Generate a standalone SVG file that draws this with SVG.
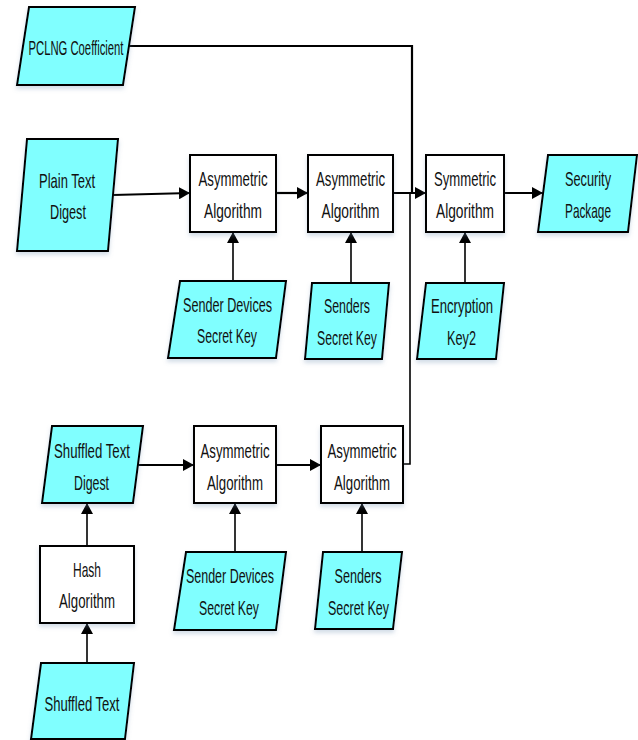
<svg xmlns="http://www.w3.org/2000/svg" width="638" height="740" viewBox="0 0 638 740">
<style>
.io{fill:#80ffff;stroke:#000;stroke-width:2;filter:url(#sh)}
.bx{fill:#fff;stroke:#000;stroke-width:2;filter:url(#sh)}
text{font-family:"Liberation Sans",Arial,sans-serif;font-size:21px;fill:#111;text-anchor:middle}
.c{fill:none;stroke:#000;stroke-width:2.2}
.v{fill:none;stroke:#000;stroke-width:1.6}
.a{marker-end:url(#ar)}
</style>
<defs>
<filter id="sh" x="-10%" y="-10%" width="120%" height="130%">
<feDropShadow dx="0" dy="3" stdDeviation="2" flood-color="#7090b0" flood-opacity="0.3"/>
</filter>
<marker id="ar" markerUnits="userSpaceOnUse" markerWidth="12" markerHeight="12" refX="11" refY="6" orient="auto">
<path d="M0,0 L11,6 L0,12 z" fill="#000"/>
</marker>
</defs>
<g id="connectors">
<path class="c" d="M128 46 H412 V193"/>
<path class="v" d="M403 464 H410 V193"/>
<path class="c a" d="M113 195 L190 193"/>
<path class="c a" d="M276 193 H308"/>
<path class="c a" d="M393 193 H426"/>
<path class="c a" d="M504 193 H543"/>
<path class="v a" d="M233 281 V232"/>
<path class="v a" d="M351 283 V232"/>
<path class="v a" d="M465 283 V232"/>
<path class="c a" d="M138 465 H194"/>
<path class="c a" d="M276 465 H321"/>
<path class="v a" d="M87 546 V503"/>
<path class="v a" d="M235 552 V503"/>
<path class="v a" d="M362 552 V503"/>
<path class="v a" d="M87 663 V623"/>
</g>
<g id="pclng">
<polygon class="io" points="29,7 135,7 123,85 17,85"/>
<text x="76" y="55" textLength="95" lengthAdjust="spacingAndGlyphs">PCLNG Coefficient</text>
</g>
<g id="plain">
<polygon class="io" points="27,139 118,139 108,251 17,251"/>
<text x="67" y="188" textLength="56" lengthAdjust="spacingAndGlyphs">Plain Text</text>
<text x="68" y="219" textLength="36" lengthAdjust="spacingAndGlyphs">Digest</text>
</g>
<g id="asym1">
<rect class="bx" x="190" y="155" width="86" height="77"/>
<text x="233" y="186" textLength="69" lengthAdjust="spacingAndGlyphs">Asymmetric</text>
<text x="233" y="218" textLength="58" lengthAdjust="spacingAndGlyphs">Algorithm</text>
</g>
<g id="asym2">
<rect class="bx" x="308" y="155" width="85" height="77"/>
<text x="350.5" y="186" textLength="69" lengthAdjust="spacingAndGlyphs">Asymmetric</text>
<text x="350.5" y="218" textLength="58" lengthAdjust="spacingAndGlyphs">Algorithm</text>
</g>
<g id="sym">
<rect class="bx" x="426" y="155" width="78" height="77"/>
<text x="465" y="186" textLength="62" lengthAdjust="spacingAndGlyphs">Symmetric</text>
<text x="465" y="218" textLength="58" lengthAdjust="spacingAndGlyphs">Algorithm</text>
</g>
<g id="secpkg">
<polygon class="io" points="548,155 637,155 628,232 538,232"/>
<text x="588" y="186" textLength="46" lengthAdjust="spacingAndGlyphs">Security</text>
<text x="588" y="218" textLength="46" lengthAdjust="spacingAndGlyphs">Package</text>
</g>
<g id="sdk1">
<polygon class="io" points="180,281 286,281 276,358 168,358"/>
<text x="227.5" y="312" textLength="89" lengthAdjust="spacingAndGlyphs">Sender Devices</text>
<text x="227" y="343" textLength="60" lengthAdjust="spacingAndGlyphs">Secret Key</text>
</g>
<g id="ssk1">
<polygon class="io" points="312,283 389,283 382,359 305,359"/>
<text x="347" y="313" textLength="46" lengthAdjust="spacingAndGlyphs">Senders</text>
<text x="347" y="345" textLength="60" lengthAdjust="spacingAndGlyphs">Secret Key</text>
</g>
<g id="enc">
<polygon class="io" points="426,283 504,283 496,359 417,359"/>
<text x="462" y="313" textLength="62" lengthAdjust="spacingAndGlyphs">Encryption</text>
<text x="461.5" y="345" textLength="29" lengthAdjust="spacingAndGlyphs">Key2</text>
</g>
<g id="shdigest">
<polygon class="io" points="52,426 143,426 133,503 42,503"/>
<text x="92" y="458" textLength="76" lengthAdjust="spacingAndGlyphs">Shuffled Text</text>
<text x="91.5" y="490" textLength="35" lengthAdjust="spacingAndGlyphs">Digest</text>
</g>
<g id="asym3">
<rect class="bx" x="194" y="426" width="82" height="77"/>
<text x="235" y="458" textLength="69" lengthAdjust="spacingAndGlyphs">Asymmetric</text>
<text x="235" y="490" textLength="56" lengthAdjust="spacingAndGlyphs">Algorithm</text>
</g>
<g id="asym4">
<rect class="bx" x="321" y="426" width="82" height="77"/>
<text x="362" y="458" textLength="69" lengthAdjust="spacingAndGlyphs">Asymmetric</text>
<text x="362" y="490" textLength="56" lengthAdjust="spacingAndGlyphs">Algorithm</text>
</g>
<g id="hash">
<rect class="bx" x="40" y="546" width="94" height="77"/>
<text x="87" y="577" textLength="28" lengthAdjust="spacingAndGlyphs">Hash</text>
<text x="87" y="608" textLength="56" lengthAdjust="spacingAndGlyphs">Algorithm</text>
</g>
<g id="sdk2">
<polygon class="io" points="186,552 286,552 276,630 174,630"/>
<text x="230" y="583" textLength="88" lengthAdjust="spacingAndGlyphs">Sender Devices</text>
<text x="229" y="615" textLength="60" lengthAdjust="spacingAndGlyphs">Secret Key</text>
</g>
<g id="ssk2">
<polygon class="io" points="323,552 402,552 393,629 315,629"/>
<text x="358" y="583" textLength="47" lengthAdjust="spacingAndGlyphs">Senders</text>
<text x="358.5" y="615" textLength="61" lengthAdjust="spacingAndGlyphs">Secret Key</text>
</g>
<g id="shuffled">
<polygon class="io" points="41,663 134,663 125,739 31,739"/>
<text x="82" y="711" textLength="75" lengthAdjust="spacingAndGlyphs">Shuffled Text</text>
</g>
</svg>
